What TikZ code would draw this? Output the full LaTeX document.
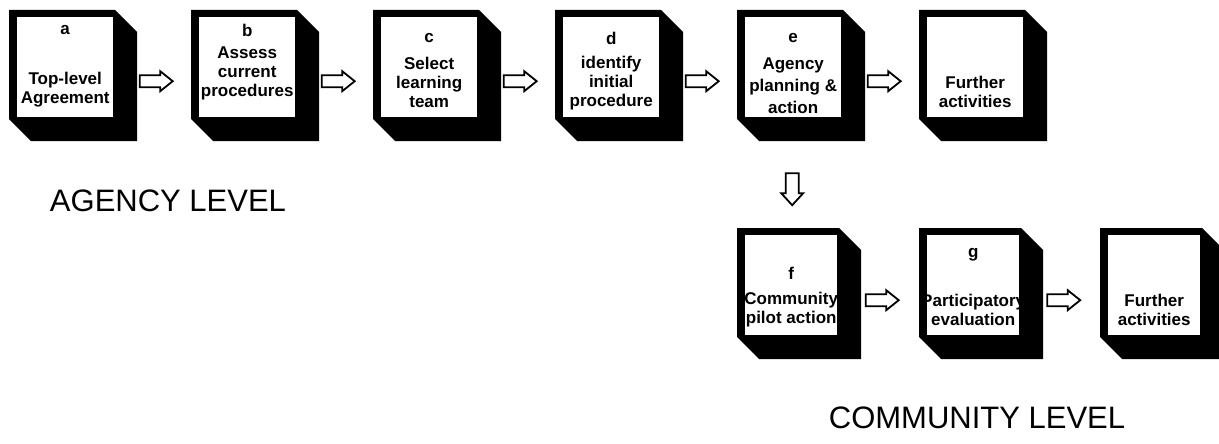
\documentclass[tikz,border=0pt]{standalone}
\usepackage{fontspec}
\setmainfont{Liberation Sans}
\usetikzlibrary{calc}

% A shaded "cube": black front frame with a white face and a chamfered black
% extrusion to the lower right.  #1 name, #2 x, #3 y (top-left), #4 face width
\newcommand\cubebox[4]{%
  \pgfmathsetmacro\facew{#4-10}%
  \fill (#2,#3) -- ++(#4,0) -- ++(22,22) -- ++(0,109) -- ++(-#4,0) -- ++(-22,-22) -- cycle;
  \node[face, minimum width=\facew pt, anchor=north west] (#1) at ({#2+8},{#3+7}) {};
}

\tikzset{
  face/.style={rectangle, fill=white, inner sep=0pt, minimum height=100pt},
  lbl/.style={inner sep=0pt, font=\fontsize{17}{19}\selectfont\bfseries},
  txt/.style={inner sep=0pt, align=center, font=\fontsize{17}{19}\selectfont\bfseries},
  level/.style={inner sep=0pt, font=\fontsize{31}{36}\selectfont},
  arrowline/.style={line width=1.8pt, fill=white, line join=miter},
  rarrow/.pic={\draw[arrowline] (-16.5,-6) -- (4,-6) -- (4,-10) -- (16.5,0) -- (4,10) -- (4,6) -- (-16.5,6) -- cycle;},
  darrow/.pic={\draw[arrowline] (-6.5,-16) -- (6.5,-16) -- (6.5,4) -- (11,4) -- (0,16) -- (-11,4) -- (-6.5,4) -- cycle;}
}

\begin{document}
\begin{tikzpicture}[x=1pt, y=-1pt]
\useasboundingbox (0,0) rectangle (1219,444);

% agency level row
\cubebox{a}{9}{10}{106}
\cubebox{b}{191}{10}{106}
\cubebox{c}{373}{10}{106}
\cubebox{d}{555}{10}{106}
\cubebox{e}{737}{10}{106}
\cubebox{fa}{919}{10}{106}

% community level row
\cubebox{f}{737}{228}{102}
\cubebox{g}{919}{228}{102}
\cubebox{fc}{1100}{228}{102}

% box texts
\node[lbl] (a-l) at ($(a.north)+(0,13)$) {a};
\node[txt] (a-t) at ($(a.north)+(0,73)$) {Top-level\\Agreement};
\node[lbl] (b-l) at ($(b.north)+(0,13)$) {b};
\node[txt] (b-t) at ($(b.north)+(0,56)$) {Assess\\current\\procedures};
\node[lbl] (c-l) at ($(c.north)+(0,21)$) {c};
\node[txt] (c-t) at ($(c.north)+(0,65)$) {Select\\learning\\team};
\node[lbl] (d-l) at ($(d.north)+(0,21)$) {d};
\node[txt] (d-t) at ($(d.north)+(0,66)$) {identify\\initial\\procedure};
\node[lbl] (e-l) at ($(e.north)+(0,21)$) {e};
\node[txt] (e-t) at ($(e.north)+(0,69)$) {Agency\\[3pt]planning \&\\[3pt]action};
\node[txt] (fa-t) at ($(fa.north)+(0,75)$) {Further\\activities};

\node[lbl] (f-l) at ($(f.north)+(0,38)$) {f};
\node[txt] (f-t) at ($(f.north)+(0,75)$) {Community\\pilot action};
\node[lbl] (g-l) at ($(g.north)+(0,20)$) {g};
\node[txt] (g-t) at ($(g.north)+(0,75)$) {Participatory\\evaluation};
\node[txt] (fc-t) at ($(fc.north)+(0,75)$) {Further\\activities};

% flow arrows
\pic at ($(a.east)!0.5!(b.west)+(0,14)$) {rarrow};
\pic at ($(b.east)!0.5!(c.west)+(0,14)$) {rarrow};
\pic at ($(c.east)!0.5!(d.west)+(0,14)$) {rarrow};
\pic at ($(d.east)!0.5!(e.west)+(0,14)$) {rarrow};
\pic at ($(e.east)!0.5!(fa.west)+(0,14)$) {rarrow};
\pic at ($(e.south)!0.5!(f.north)+(0,13)$) {darrow};
\pic at ($(f.east)!0.5!(g.west)+(0,15)$) {rarrow};
\pic at ($(g.east)!0.5!(fc.west)+(0,15)$) {rarrow};

% level captions
\node[level] (agency) at (168,201) {AGENCY LEVEL};
\node[level] (community) at (977,418) {COMMUNITY LEVEL};
\end{tikzpicture}
\end{document}
